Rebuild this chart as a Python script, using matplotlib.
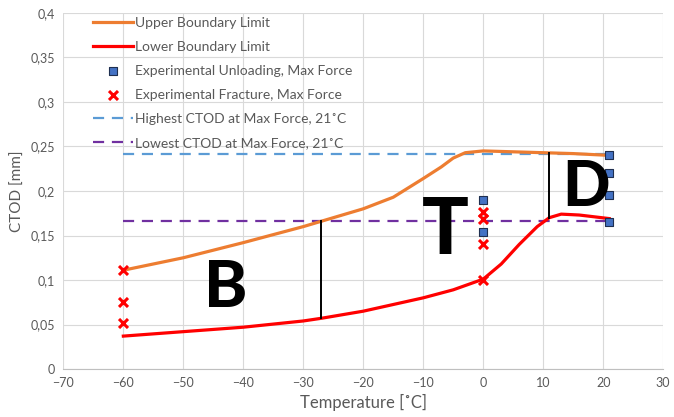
import numpy as np
import matplotlib.pyplot as plt
from matplotlib.ticker import FuncFormatter, MultipleLocator

plt.rcParams['font.family'] = ['Lato', 'DejaVu Sans']

# upper / lower boundary curves
upper_t = [-60, -50, -40, -30, -27, -20, -15, -10, -7, -5, -3, 0, 5, 10, 15, 21]
upper_v = [0.111, 0.125, 0.142, 0.160, 0.166, 0.180, 0.193, 0.214, 0.227, 0.237, 0.243, 0.245, 0.244, 0.243, 0.242, 0.240]
lower_t = [-60, -50, -40, -30, -27, -20, -10, -5, 0, 3, 6, 9, 11, 13, 16, 21]
lower_v = [0.037, 0.042, 0.047, 0.054, 0.057, 0.065, 0.080, 0.089, 0.101, 0.118, 0.140, 0.160, 0.170, 0.174, 0.173, 0.169]

unload_t = [21, 21, 21, 21, 0, 0]
unload_v = [0.240, 0.220, 0.196, 0.165, 0.190, 0.154]
fract_t = [-60, -60, -60, 0, 0, 0, 0]
fract_v = [0.111, 0.075, 0.052, 0.176, 0.168, 0.140, 0.100]

highest_ctod = 0.241
lowest_ctod = 0.166
dash_t = [-60, 21]

# region dividers
div_t = [-27, 11]
div_lo = [0.057, 0.170]
div_hi = [0.166, 0.243]

region_labels = ['B', 'T', 'D']
region_t = [-43, -6.4, 17.2]
region_v = [0.090, 0.154, 0.203]
region_size = [47, 56, 45]


def comma(v, pos):
    s = f"{v:.2f}".rstrip('0').rstrip('.')
    return s.replace('.', ',')


fig = plt.figure(figsize=(6.74, 4.17), dpi=100)
ax = fig.add_axes([0.094, 0.115, 0.89, 0.854])

ax.plot(upper_t, upper_v, color='#ED7D31', lw=2.3, label='Upper Boundary Limit', zorder=3)
ax.plot(lower_t, lower_v, color='#FF0000', lw=2.3, label='Lower Boundary Limit', zorder=3)
ax.scatter(unload_t, unload_v, marker='s', s=38, color='#4472C4', edgecolor='#1F2F50',
           linewidth=0.8, label='Experimental Unloading, Max Force', zorder=5)
ax.scatter(fract_t, fract_v, marker='x', s=42, color='#FF0000', linewidth=2.2,
           label='Experimental Fracture, Max Force', zorder=5)
ax.plot(dash_t, [highest_ctod] * 2, color='#5B9BD5', lw=1.6, dashes=(5, 3.5),
        label='Highest CTOD at Max Force, 21˚C', zorder=2)
ax.plot(dash_t, [lowest_ctod] * 2, color='#7030A0', lw=1.6, dashes=(5, 3.5),
        label='Lowest CTOD at Max Force, 21˚C', zorder=2)

for t, lo, hi in zip(div_t, div_lo, div_hi):
    ax.plot([t, t], [lo, hi], color='black', lw=1.4, zorder=4)

for lab, t, v, fs in zip(region_labels, region_t, region_v, region_size):
    ax.text(t, v, lab, fontsize=fs, fontweight='black', ha='center', va='center', zorder=6)

ax.set_xlim(-70, 30)
ax.set_ylim(0, 0.4)
ax.xaxis.set_major_locator(MultipleLocator(10))
ax.yaxis.set_major_locator(MultipleLocator(0.05))
ax.yaxis.set_major_formatter(FuncFormatter(comma))
ax.grid(True, color='#D9D9D9', lw=0.8)
ax.set_axisbelow(True)
for side in ['top', 'right', 'left']:
    ax.spines[side].set_visible(False)
ax.spines['bottom'].set_color('#BFBFBF')
ax.tick_params(length=0, labelsize=9, colors='#595959', pad=6)

ax.set_xlabel('Temperature [˚C]', fontsize=12, color='#595959', labelpad=3)
ax.set_ylabel('CTOD [mm]', fontsize=11, color='#595959', labelpad=4)

ax.legend(loc='upper left', bbox_to_anchor=(0.035, 1.012), frameon=False, fontsize=10,
          labelcolor='#595959', handlelength=2.9, handletextpad=0.15,
          labelspacing=0.86, borderaxespad=0.2)

fig.savefig('out.png', dpi=100)
